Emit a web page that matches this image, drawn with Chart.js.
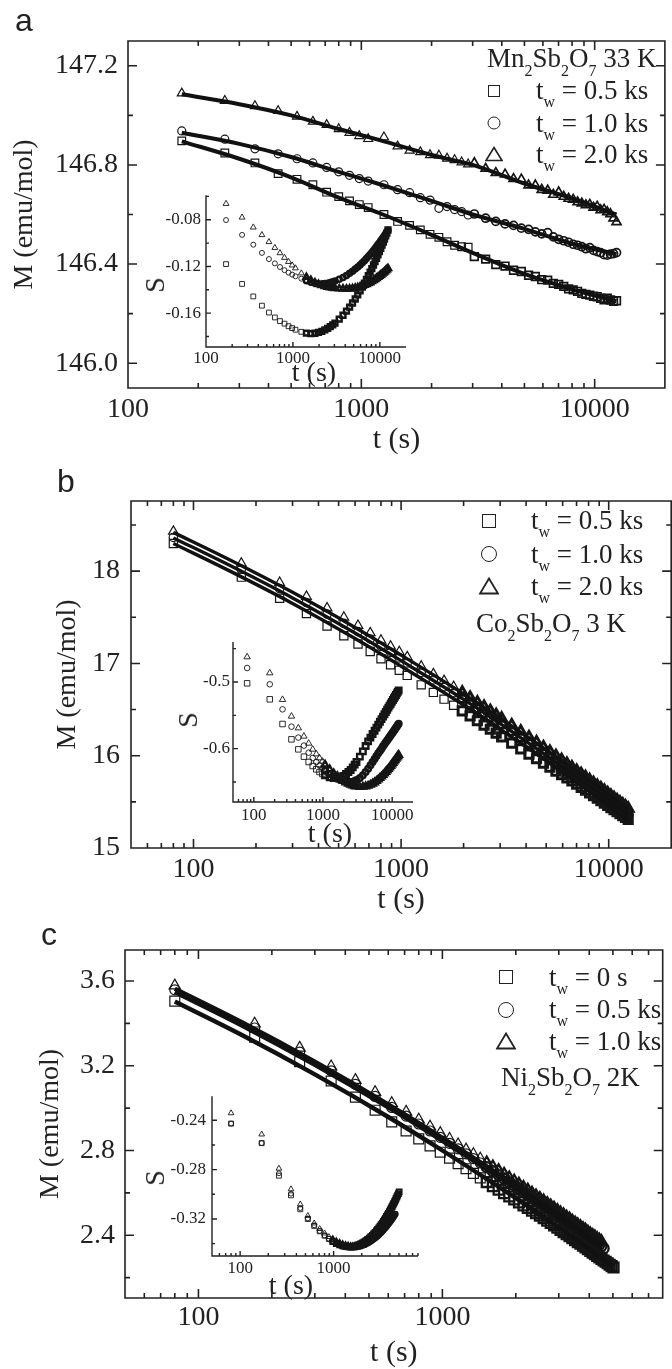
<!DOCTYPE html>
<html>
<head>
<meta charset="utf-8">
<script src="https://cdn.jsdelivr.net/npm/chart.js@4.4.1/dist/chart.umd.min.js"></script>
<style>
  body { margin: 0; width: 672px; height: 1369px; overflow: hidden; background: #fff; position: relative;
         font-family: 'Liberation Serif', 'Times New Roman', serif; color: #222; }
  canvas { position: absolute; }
  .tx { position: absolute; font-size: 27px; line-height: 1; white-space: nowrap; }
  .tx sub { font-size: 16px; vertical-align: -9px; line-height: 0; }
  .tx sub.w { vertical-align: -8px; }
  .pl { position: absolute; font-family: 'Liberation Sans', Arial, sans-serif; font-size: 32px; line-height: 1; }
  .it { position: absolute; font-size: 28px; line-height: 1; white-space: nowrap; transform: translate(-50%, -50%); }
  .it.rot { transform: translate(-50%, -50%) rotate(-90deg); }
  .mk { position: absolute; box-sizing: border-box; border: 1.6px solid #222; transform: translate(-50%, -50%); }
  .mk.c { border-radius: 50%; }
  svg.tri { position: absolute; transform: translate(-50%, -50%); }
</style>
</head>
<body>
<canvas id="cA" width="672" height="460" style="left:0;top:0"></canvas>
<canvas id="cB" width="680" height="460" style="left:0;top:460px"></canvas>
<canvas id="cC" width="672" height="449" style="left:0;top:920px"></canvas>
<canvas id="iA" width="270" height="200" style="left:150px;top:180px"></canvas>
<canvas id="iB" width="260" height="210" style="left:180px;top:620px"></canvas>
<canvas id="iC" width="290" height="200" style="left:150px;top:1080px"></canvas>

<div class="pl" style="left:15px;top:4px">a</div>
<div class="pl" style="left:57px;top:465px">b</div>
<div class="pl" style="left:41px;top:918px">c</div>

<!-- panel a legend -->
<div class="tx" style="left:487px;top:45px">Mn<sub>2</sub>Sb<sub>2</sub>O<sub>7</sub> 33 K</div>
<div class="mk" style="left:494px;top:91px;width:12px;height:12px"></div>
<div class="mk c" style="left:494px;top:123px;width:13px;height:13px"></div>
<svg class="tri" style="left:494px;top:154px" width="18" height="16"><polygon points="9,1.5 17,14.5 1,14.5" fill="none" stroke="#222" stroke-width="1.6"/></svg>
<div class="tx" style="left:536px;top:77px">t<sub class="w">w</sub> = 0.5 ks</div>
<div class="tx" style="left:536px;top:110px">t<sub class="w">w</sub> = 1.0 ks</div>
<div class="tx" style="left:536px;top:141px">t<sub class="w">w</sub> = 2.0 ks</div>

<!-- panel b legend -->
<div class="mk" style="left:489px;top:521px;width:14px;height:14px"></div>
<div class="mk c" style="left:489px;top:554px;width:16px;height:16px"></div>
<svg class="tri" style="left:489px;top:586px" width="21" height="18"><polygon points="10.5,1.5 19.5,16.5 1.5,16.5" fill="none" stroke="#222" stroke-width="1.8"/></svg>
<div class="tx" style="left:531px;top:507px">t<sub class="w">w</sub> = 0.5 ks</div>
<div class="tx" style="left:531px;top:541px">t<sub class="w">w</sub> = 1.0 ks</div>
<div class="tx" style="left:531px;top:573px">t<sub class="w">w</sub> = 2.0 ks</div>
<div class="tx" style="left:476px;top:610px">Co<sub>2</sub>Sb<sub>2</sub>O<sub>7</sub> 3 K</div>

<!-- panel c legend -->
<div class="mk" style="left:506px;top:977px;width:14px;height:14px"></div>
<div class="mk c" style="left:506px;top:1010px;width:16px;height:16px"></div>
<svg class="tri" style="left:506px;top:1041px" width="21" height="18"><polygon points="10.5,1.5 19.5,16.5 1.5,16.5" fill="none" stroke="#222" stroke-width="1.8"/></svg>
<div class="tx" style="left:549px;top:964px">t<sub class="w">w</sub> = 0 s</div>
<div class="tx" style="left:549px;top:996px">t<sub class="w">w</sub> = 0.5 ks</div>
<div class="tx" style="left:549px;top:1028px">t<sub class="w">w</sub> = 1.0 ks</div>
<div class="tx" style="left:501px;top:1064px">Ni<sub>2</sub>Sb<sub>2</sub>O<sub>7</sub> 2K</div>

<!-- inset axis titles -->
<div class="it" style="left:314px;top:372px">t (s)</div>
<div class="it rot" style="left:155px;top:285px">S</div>
<div class="it" style="left:330px;top:833px">t (s)</div>
<div class="it rot" style="left:188px;top:720px">S</div>
<div class="it" style="left:291px;top:1285px">t (s)</div>
<div class="it rot" style="left:155px;top:1178px">S</div>

<script>
// ---- panel a : Mn2Sb2O7 33 K ----
const tA = [170, 260, 350, 440, 530, 620, 710, 800, 890, 980, 1070,
  1250, 1430, 1610, 1790, 1970, 2150, 2330, 2510, 2690, 2870, 3050,
  3410, 3770, 4130, 4490, 4850, 5210, 5570, 5930, 6290, 6650, 7010, 7370, 7730,
  8090, 8450, 8810, 9170, 9530, 9890, 10250, 10610, 10970, 11330, 11690, 12050, 12410];
const mA_05 = [146.897, 146.848, 146.808, 146.765, 146.742, 146.720, 146.690, 146.672, 146.655, 146.640, 146.628,
  146.600, 146.572, 146.556, 146.538, 146.520, 146.508, 146.490, 146.476, 146.470, 146.468, 146.430,
  146.420, 146.398, 146.392, 146.375, 146.370, 146.355, 146.350, 146.337, 146.335, 146.322, 146.318, 146.310, 146.300,
  146.296, 146.290, 146.282, 146.278, 146.275, 146.270, 146.268, 146.262, 146.256, 146.262, 146.255, 146.250, 146.252];
const mA_10 = [146.937, 146.904, 146.865, 146.845, 146.825, 146.808, 146.790, 146.772, 146.758, 146.745, 146.735,
  146.720, 146.700, 146.688, 146.668, 146.658, 146.625, 146.632, 146.620, 146.612, 146.598, 146.602,
  146.585, 146.572, 146.562, 146.556, 146.545, 146.540, 146.530, 146.522, 146.527, 146.510, 146.500, 146.494, 146.488,
  146.480, 146.476, 146.470, 146.462, 146.466, 146.455, 146.450, 146.446, 146.438, 146.436, 146.440, 146.442, 146.446];
const mA_20 = [147.089, 147.059, 147.038, 147.018, 146.995, 146.975, 146.962, 146.945, 146.930, 146.917, 146.905,
  146.912, 146.875, 146.858, 146.852, 146.840, 146.838, 146.826, 146.820, 146.811, 146.803, 146.808,
  146.785, 146.768, 146.762, 146.744, 146.742, 146.718, 146.718, 146.700, 146.697, 146.680, 146.690, 146.672, 146.664,
  146.660, 146.650, 146.645, 146.638, 146.640, 146.628, 146.632, 146.618, 146.620, 146.610, 146.602, 146.585, 146.570];
const fitTA = [170, 300, 500, 800, 1200, 2000, 3000, 5000, 8000, 12400];
const fitA_05 = [146.895, 146.825, 146.750, 146.668, 146.605, 146.518, 146.445, 146.360, 146.298, 146.250];
const fitA_10 = [146.930, 146.885, 146.832, 146.772, 146.722, 146.655, 146.600, 146.542, 146.482, 146.440];
const fitA_20 = [147.085, 147.045, 147.000, 146.945, 146.900, 146.840, 146.800, 146.725, 146.665, 146.600];
const sA_05 = [-0.1180, -0.1350, -0.1457, -0.1536, -0.1595, -0.1637, -0.1668, -0.1690, -0.1712, -0.1728, -0.1742,
  -0.1760, -0.1771, -0.1775, -0.1772, -0.1765, -0.1756, -0.1744, -0.1731, -0.1716, -0.1701, -0.1685,
  -0.1652, -0.1618, -0.1583, -0.1548, -0.1513, -0.1479, -0.1444, -0.1410, -0.1377, -0.1344, -0.1312, -0.1280, -0.1249,
  -0.1219, -0.1188, -0.1159, -0.1130, -0.1101, -0.1073, -0.1045, -0.1018, -0.0991, -0.0965, -0.0939, -0.0914, -0.0888];
const sA_10 = [-0.0803, -0.0930, -0.1014, -0.1084, -0.1137, -0.1174, -0.1205, -0.1232, -0.1253, -0.1270, -0.1284,
  -0.1305, -0.1322, -0.1336, -0.1345, -0.1350, -0.1350, -0.1347, -0.1343, -0.1338, -0.1332, -0.1325,
  -0.1310, -0.1294, -0.1277, -0.1259, -0.1241, -0.1223, -0.1205, -0.1187, -0.1168, -0.1151, -0.1133, -0.1115, -0.1097,
  -0.1080, -0.1063, -0.1046, -0.1030, -0.1013, -0.0997, -0.0981, -0.0966, -0.0950, -0.0935, -0.0920, -0.0905, -0.0890];
const sA_20 = [-0.0663, -0.0780, -0.0865, -0.0930, -0.0990, -0.1040, -0.1085, -0.1125, -0.1160, -0.1190, -0.1215,
  -0.1258, -0.1292, -0.1318, -0.1338, -0.1352, -0.1362, -0.1370, -0.1376, -0.1381, -0.1384, -0.1387,
  -0.1390, -0.1391, -0.1392, -0.1391, -0.1389, -0.1384, -0.1380, -0.1374, -0.1368, -0.1360, -0.1353, -0.1345, -0.1337,
  -0.1328, -0.1319, -0.1310, -0.1301, -0.1292, -0.1282, -0.1273, -0.1264, -0.1254, -0.1245, -0.1235, -0.1226, -0.1216];

// ---- panel b : Co2Sb2O7 3 K ----
const tB = [80, 170, 260, 350, 440, 530, 620, 710, 800, 890, 980, 1070,
  1250, 1430, 1610, 1790, 1970, 2150, 2330, 2510, 2690, 2870, 3050,
  3410, 3770, 4130, 4490, 4850, 5210, 5570, 5930, 6290, 6650, 7010, 7370, 7730,
  8090, 8450, 8810, 9170, 9530, 9890, 10250, 10610, 10970, 11330, 11690, 12050, 12410];
const mB_05 = [18.300, 17.935, 17.705, 17.540, 17.405, 17.300, 17.210, 17.130, 17.050, 16.985, 16.925, 16.870,
  16.768, 16.686, 16.613, 16.547, 16.486, 16.431, 16.379, 16.331, 16.287, 16.244, 16.205,
  16.136, 16.074, 16.018, 15.967, 15.919, 15.875, 15.834, 15.796, 15.760, 15.726, 15.691, 15.658, 15.626,
  15.596, 15.567, 15.539, 15.512, 15.487, 15.462, 15.438, 15.415, 15.393, 15.372, 15.351, 15.331, 15.311];
const mB_10 = [18.365, 18.020, 17.810, 17.660, 17.535, 17.435, 17.345, 17.265, 17.185, 17.120, 17.060, 17.005,
  16.903, 16.821, 16.748, 16.682, 16.621, 16.566, 16.514, 16.466, 16.422, 16.379, 16.340,
  16.266, 16.199, 16.138, 16.082, 16.029, 15.980, 15.934, 15.891, 15.850, 15.811, 15.774, 15.739, 15.705,
  15.673, 15.642, 15.612, 15.583, 15.556, 15.529, 15.503, 15.478, 15.454, 15.431, 15.408, 15.386, 15.364];
const mB_20 = [18.430, 18.085, 17.875, 17.725, 17.600, 17.500, 17.410, 17.330, 17.250, 17.185, 17.125, 17.070,
  16.968, 16.886, 16.813, 16.747, 16.686, 16.631, 16.579, 16.531, 16.487, 16.444, 16.405,
  16.331, 16.264, 16.203, 16.147, 16.094, 16.045, 15.999, 15.956, 15.915, 15.876, 15.839, 15.804, 15.770,
  15.738, 15.707, 15.677, 15.648, 15.621, 15.594, 15.568, 15.543, 15.519, 15.496, 15.473, 15.451, 15.429];
const fitTB = [80, 150, 300, 600, 1000, 2000, 4000, 8000, 12410];
const fitB_05 = [18.30, 18.00, 17.65, 17.27, 16.97, 16.55, 16.095, 15.615, 15.30];
const fitB_10 = [18.36, 18.06, 17.71, 17.33, 17.03, 16.61, 16.155, 15.675, 15.36];
const fitB_20 = [18.42, 18.12, 17.77, 17.39, 17.09, 16.67, 16.215, 15.735, 15.42];
const sB_05 = [-0.502, -0.526, -0.563, -0.586, -0.601, -0.612, -0.620, -0.626, -0.631, -0.635, -0.638, -0.640,
  -0.643, -0.644, -0.644, -0.643, -0.641, -0.638, -0.635, -0.632, -0.628, -0.624, -0.620,
  -0.612, -0.604, -0.596, -0.589, -0.5835, -0.5781, -0.5731, -0.5684, -0.5639, -0.5597, -0.5557, -0.5520, -0.5484,
  -0.5449, -0.5416, -0.5385, -0.5355, -0.5326, -0.5298, -0.5270, -0.5244, -0.5220, -0.5195, -0.5171, -0.5148, -0.5126];
const sB_10 = [-0.479, -0.5034, -0.541, -0.567, -0.5834, -0.5954, -0.606, -0.614, -0.620, -0.625, -0.629, -0.633,
  -0.638, -0.642, -0.645, -0.647, -0.6485, -0.6495, -0.650, -0.650, -0.6495, -0.6485, -0.647,
  -0.644, -0.640, -0.635, -0.630, -0.625, -0.620, -0.6155, -0.611, -0.607, -0.6035, -0.600, -0.5965, -0.5935,
  -0.5905, -0.5878, -0.585, -0.5825, -0.580, -0.5775, -0.5752, -0.573, -0.571, -0.5688, -0.5666, -0.5645, -0.5625];
const sB_20 = [-0.4625, -0.4865, -0.5264, -0.5514, -0.569, -0.5814, -0.592, -0.601, -0.608, -0.614, -0.619, -0.624,
  -0.631, -0.637, -0.641, -0.645, -0.648, -0.6505, -0.6525, -0.654, -0.6552, -0.6562, -0.6568,
  -0.6574, -0.6572, -0.6566, -0.6556, -0.6542, -0.6525, -0.6506, -0.6485, -0.6463, -0.6441, -0.6418, -0.6395, -0.6372,
  -0.6349, -0.6326, -0.6303, -0.6280, -0.6258, -0.6236, -0.6214, -0.6193, -0.6172, -0.6151, -0.6131, -0.6112, -0.6093];

// ---- panel c : Ni2Sb2O7 2K ----
const tC = [80, 170, 260, 350, 440, 530, 620, 710, 800, 890, 980, 1070, 1160, 1250, 1340, 1430, 1520, 1610,
  1700, 1790, 1880, 1970, 2060, 2150, 2240, 2330, 2420, 2510, 2600, 2690, 2780, 2870, 2960, 3050, 3140, 3230,
  3320, 3410, 3500, 3590, 3680, 3770, 3860, 3950, 4040, 4130, 4220, 4310, 4400, 4490, 4580, 4670, 4760, 4850,
  4940, 5030];
const mC_0 = [3.505, 3.334, 3.219, 3.128, 3.052, 2.990, 2.935, 2.892, 2.855, 2.822, 2.792, 2.764, 2.738, 2.714,
  2.692, 2.671, 2.651, 2.632, 2.615, 2.599, 2.583, 2.569, 2.555, 2.541, 2.529, 2.516, 2.504, 2.493, 2.481, 2.469,
  2.458, 2.447, 2.436, 2.425, 2.415, 2.405, 2.396, 2.386, 2.377, 2.368, 2.360, 2.351, 2.343, 2.334, 2.326, 2.318,
  2.311, 2.303, 2.296, 2.289, 2.281, 2.275, 2.268, 2.261, 2.254, 2.248];
const mC_05 = [3.558, 3.378, 3.264, 3.176, 3.112, 3.055, 3.003, 2.962, 2.925, 2.892, 2.862, 2.834, 2.808, 2.784,
  2.762, 2.741, 2.721, 2.702, 2.684, 2.667, 2.650, 2.635, 2.620, 2.605, 2.592, 2.578, 2.565, 2.553, 2.541, 2.529,
  2.518, 2.507, 2.496, 2.485, 2.475, 2.465, 2.456, 2.446, 2.437, 2.428, 2.420, 2.411, 2.403, 2.394, 2.386, 2.378,
  2.371, 2.363, 2.356, 2.349, 2.338];
const mC_10 = [3.578, 3.398, 3.284, 3.196, 3.132, 3.075, 3.023, 2.982, 2.945, 2.912, 2.882, 2.854, 2.828, 2.804,
  2.782, 2.761, 2.741, 2.722, 2.704, 2.687, 2.670, 2.655, 2.640, 2.625, 2.612, 2.598, 2.585, 2.573, 2.561, 2.549,
  2.538, 2.527, 2.516, 2.505, 2.495, 2.485, 2.476, 2.466, 2.457, 2.448, 2.440, 2.431, 2.423, 2.414, 2.406, 2.398,
  2.391, 2.383, 2.376, 2.369];
const fitTC0 = [80, 150, 300, 600, 1000, 2000, 3000, 4000, 5030];
const fitTC = [80, 150, 300, 600, 1000, 2000, 3000, 4000, 4500];
const fitC_0 = [3.503, 3.346, 3.159, 2.958, 2.800, 2.575, 2.436, 2.335, 2.253];
const fitC_05 = [3.548, 3.391, 3.204, 3.003, 2.845, 2.620, 2.481, 2.380, 2.338];
const fitC_10 = [3.563, 3.406, 3.219, 3.018, 2.860, 2.635, 2.496, 2.395, 2.353];
const sC_0 = [-0.2427, -0.2585, -0.2849, -0.3008, -0.3121, -0.3200, -0.3256, -0.3300, -0.3335, -0.3362, -0.3383,
  -0.3399, -0.3410, -0.3418, -0.3422, -0.3425, -0.3425, -0.3424, -0.3420, -0.3416, -0.3410, -0.3402, -0.3394,
  -0.3386, -0.3376, -0.3366, -0.3356, -0.3344, -0.3333, -0.3321, -0.3309, -0.3297, -0.3285, -0.3272, -0.3259,
  -0.3246, -0.3233, -0.3220, -0.3207, -0.3194, -0.3180, -0.3167, -0.3154, -0.3140, -0.3127, -0.3113, -0.3100,
  -0.3087, -0.3073, -0.3060, -0.3047, -0.3033, -0.3020, -0.3007, -0.2994, -0.2980];
const sC_05 = [-0.2427, -0.2585, -0.2830, -0.2995, -0.3112, -0.3195, -0.3252, -0.3297, -0.3333, -0.3360, -0.3382,
  -0.3399, -0.3411, -0.3420, -0.3425, -0.3428, -0.3430, -0.3430, -0.3429, -0.3426, -0.3423, -0.3419, -0.3413,
  -0.3408, -0.3401, -0.3394, -0.3387, -0.3379, -0.3371, -0.3363, -0.3354, -0.3346, -0.3337, -0.3327, -0.3318,
  -0.3309, -0.3299, -0.3289, -0.3280, -0.3270, -0.3260, -0.3250, -0.3240, -0.3230, -0.3220, -0.3210, -0.3200,
  -0.3190, -0.3180, -0.3170, -0.3160];
const sC_10 = [-0.2342, -0.2514, -0.2791, -0.2958, -0.3081, -0.3174, -0.3235, -0.3280, -0.3316, -0.3345, -0.3367,
  -0.3384, -0.3397, -0.3407, -0.3414, -0.3419, -0.3422, -0.3423, -0.3419, -0.3414, -0.3407, -0.3399, -0.3390,
  -0.3381, -0.3370, -0.3359, -0.3348, -0.3336, -0.3324, -0.3312, -0.3300, -0.3287, -0.3274, -0.3261, -0.3248,
  -0.3235, -0.3222, -0.3208, -0.3195, -0.3182, -0.3168, -0.3155, -0.3141, -0.3128, -0.3114, -0.3101, -0.3087,
  -0.3074, -0.3060, -0.3047];

// ---- tick values ----
const xMajor3 = [100, 1000, 10000];
const xMajor2 = [100, 1000];
const xMinorA = [200, 300, 400, 500, 600, 700, 800, 900, 2000, 3000, 4000, 5000, 6000, 7000, 8000, 9000];
const xMinorB = [60, 70, 80, 90, 200, 300, 400, 500, 600, 700, 800, 900, 2000, 3000, 4000, 5000, 6000, 7000, 8000, 9000];
const xMinorC = [60, 70, 80, 90, 200, 300, 400, 500, 600, 700, 800, 900, 2000, 3000, 4000, 5000, 6000, 7000, 8000];
const yMajA = [146.0, 146.4, 146.8, 147.2], yMinA = [146.2, 146.6, 147.0];
const yMajB = [15, 16, 17, 18], yMinB = [15.5, 16.5, 17.5, 18.5];
const yMajC = [2.4, 2.8, 3.2, 3.6], yMinC = [2.2, 2.6, 3.0, 3.4];
const sMajA = [-0.16, -0.12, -0.08], sMinA = [-0.18, -0.14, -0.10, -0.06];
const sMajB = [-0.6, -0.5], sMinB = [-0.65, -0.55, -0.45];
const sMajC = [-0.32, -0.28, -0.24], sMinC = [-0.34, -0.30, -0.26, -0.22];

Chart.defaults.font.family = "'Liberation Serif', 'Times New Roman', serif";
Chart.defaults.color = '#222';

// box / axis lines with inward ticks
const frame = {
  id: 'frame',
  afterDatasetsDraw(chart, args, o) {
    const { ctx, chartArea: a } = chart;
    const sx = chart.scales.x, sy = chart.scales.y;
    ctx.save();
    ctx.strokeStyle = '#222';
    ctx.lineWidth = o.lw;
    ctx.beginPath();
    if (o.box) {
      ctx.rect(a.left, a.top, a.right - a.left, a.bottom - a.top);
    } else {
      ctx.moveTo(a.left, a.top);
      ctx.lineTo(a.left, a.bottom);
      ctx.lineTo(a.right, a.bottom);
    }
    const marks = (vals, len, horiz) => {
      vals.forEach(v => {
        if (horiz) {
          const p = sx.getPixelForValue(v);
          if (p < a.left - 0.5 || p > a.right + 0.5) return;
          ctx.moveTo(p, a.bottom); ctx.lineTo(p, a.bottom - len);
          if (o.box) { ctx.moveTo(p, a.top); ctx.lineTo(p, a.top + len); }
        } else {
          const p = sy.getPixelForValue(v);
          if (p < a.top - 0.5 || p > a.bottom + 0.5) return;
          ctx.moveTo(a.left, p); ctx.lineTo(a.left + len, p);
          if (o.box) { ctx.moveTo(a.right, p); ctx.lineTo(a.right - len, p); }
        }
      });
    };
    marks(o.xMajor, o.major, true);
    marks(o.xMinor, o.minor, true);
    marks(o.yMajor, o.major, false);
    marks(o.yMinor, o.minor, false);
    ctx.stroke();
    ctx.restore();
  }
};

const pts = (t, v) => v.map((y, i) => ({ x: t[i], y }));
const fitLine = (t, v, w) => ({
  data: pts(t, v), showLine: true, pointRadius: 0, borderColor: '#111', borderWidth: w,
  cubicInterpolationMode: 'monotone'
});
// markers get a heavier outline where the measured points crowd together
const marks = (t, v, style, r, bw, denseFrom, denseW) => ({
  data: pts(t, v), showLine: false, pointStyle: style, pointRadius: r,
  pointBorderWidth: c => (c.raw && c.raw.x >= denseFrom ? denseW : bw),
  pointBorderColor: '#151515', pointBackgroundColor: 'rgba(0,0,0,0)'
});

function makeChart(id, o) {
  return new Chart(document.getElementById(id), {
    type: 'scatter',
    data: { datasets: o.datasets },
    options: {
      responsive: false,
      animation: false,
      devicePixelRatio: 1,
      events: [],
      layout: { padding: o.pad },
      plugins: { legend: { display: false }, tooltip: { enabled: false }, frame: o.frame },
      scales: {
        x: {
          type: 'logarithmic', min: o.xMin, max: o.xMax,
          grid: { display: false, drawTicks: false }, border: { display: false },
          afterBuildTicks: s => { s.ticks = o.frame.xMajor.map(v => ({ value: v })); },
          afterFit: s => { s.height = o.xh; },
          ticks: { autoSkip: false, maxRotation: 0, padding: o.xPad, font: { size: o.fs }, callback: v => String(v) },
          title: o.xTitle
            ? { display: true, text: o.xTitle, font: { size: 30, lineHeight: 1 }, padding: { top: 0, bottom: o.xtPad } }
            : { display: false }
        },
        y: {
          min: o.yMin, max: o.yMax,
          grid: { display: false, drawTicks: false }, border: { display: false },
          afterBuildTicks: s => { s.ticks = o.frame.yMajor.map(v => ({ value: v })); },
          afterFit: s => { s.width = o.yw; },
          ticks: { autoSkip: false, padding: o.yPad, font: { size: o.fs }, callback: v => v.toFixed(o.dec) },
          title: o.yTitle
            ? { display: true, text: o.yTitle, font: { size: 28, lineHeight: 1 }, padding: { top: o.ytPad, bottom: 0 } }
            : { display: false }
        }
      }
    },
    plugins: [frame]
  });
}

// panel a
makeChart('cA', {
  datasets: [
    fitLine(fitTA, fitA_05, 4), fitLine(fitTA, fitA_10, 4), fitLine(fitTA, fitA_20, 4),
    marks(tA, mA_05, 'rect', 5.4, 1.2, 3000, 1.7), marks(tA, mA_10, 'circle', 4, 1.2, 3000, 1.7),
    marks(tA, mA_20, 'triangle', 5.2, 1.2, 3000, 1.7)
  ],
  xMin: 100, xMax: 20000, yMin: 145.9, yMax: 147.3, dec: 1, fs: 28,
  pad: { top: 41, right: 2, left: 0, bottom: 0 }, yw: 128, xh: 72, xPad: 5, yPad: 10,
  xTitle: 't (s)', xtPad: 5, yTitle: 'M (emu/mol)', ytPad: 11,
  frame: { box: true, lw: 1.6, major: 9, minor: 5, xMajor: xMajor3, xMinor: xMinorA, yMajor: yMajA, yMinor: yMinA }
});
makeChart('iA', {
  datasets: [
    marks(tA, sA_05, 'rect', 3.4, 0.9, 1300, 2.5), marks(tA, sA_10, 'circle', 2.5, 0.9, 1300, 2.5),
    marks(tA, sA_20, 'triangle', 3.4, 0.9, 1300, 2.5)
  ],
  xMin: 100, xMax: 20000, yMin: -0.189, yMax: -0.059, dec: 2, fs: 17,
  pad: { top: 13, right: 14, left: 0, bottom: 0 }, yw: 56, xh: 33, xPad: 1, yPad: 5,
  frame: { box: false, lw: 1.4, major: 5, minor: 3, xMajor: xMajor3, xMinor: xMinorA, yMajor: sMajA, yMinor: sMinA }
});

// panel b
makeChart('cB', {
  datasets: [
    fitLine(fitTB, fitB_05, 3.4), fitLine(fitTB, fitB_10, 3.4), fitLine(fitTB, fitB_20, 3.4),
    marks(tB, mB_05, 'rect', 5.8, 1.2, 1800, 3), marks(tB, mB_10, 'circle', 4.2, 1.2, 1800, 3),
    marks(tB, mB_20, 'triangle', 5.6, 1.2, 1800, 3)
  ],
  xMin: 50, xMax: 20000, yMin: 15, yMax: 18.76, dec: 0, fs: 28,
  pad: { top: 41, right: 6, left: 0, bottom: 0 }, yw: 131, xh: 72, xPad: 5, yPad: 11,
  xTitle: 't (s)', xtPad: 5, yTitle: 'M (emu/mol)', ytPad: 54,
  frame: { box: true, lw: 1.6, major: 9, minor: 5, xMajor: xMajor3, xMinor: xMinorB, yMajor: yMajB, yMinor: yMinB }
});
makeChart('iB', {
  datasets: [
    marks(tB, sB_05, 'rect', 3.9, 0.9, 1000, 2.4), marks(tB, sB_10, 'circle', 2.8, 0.9, 1000, 2.4),
    marks(tB, sB_20, 'triangle', 3.7, 0.9, 1000, 2.4)
  ],
  xMin: 50, xMax: 20000, yMin: -0.68, yMax: -0.44, dec: 1, fs: 17,
  pad: { top: 22, right: 27, left: 0, bottom: 0 }, yw: 53, xh: 28, xPad: 3, yPad: 3,
  frame: { box: false, lw: 1.4, major: 5, minor: 3, xMajor: xMajor3, xMinor: xMinorB, yMajor: sMajB, yMinor: sMinB }
});

// panel c
makeChart('cC', {
  datasets: [
    fitLine(fitTC0, fitC_0, 4.4), fitLine(fitTC, fitC_05, 4.4), fitLine(fitTC, fitC_10, 4.4),
    marks(tC, mC_0, 'rect', 7, 1.2, 1500, 2.3), marks(tC, mC_05, 'circle', 5, 1.2, 1500, 2.3),
    marks(tC, mC_10, 'triangle', 6.5, 1.2, 1500, 2.3)
  ],
  xMin: 50, xMax: 8000, yMin: 2.104, yMax: 3.746, dec: 1, fs: 28,
  pad: { top: 30, right: 4, left: 0, bottom: 0 }, yw: 125, xh: 71, xPad: 3, yPad: 10,
  xTitle: 't (s)', xtPad: 1, yTitle: 'M (emu/mol)', ytPad: 37,
  frame: { box: true, lw: 1.6, major: 9, minor: 5, xMajor: xMajor2, xMinor: xMinorC, yMajor: yMajC, yMinor: yMinC }
});
makeChart('iC', {
  datasets: [
    marks(tC, sC_0, 'rect', 3.5, 0.9, 900, 1.9), marks(tC, sC_05, 'circle', 2.4, 0.9, 900, 1.9),
    marks(tC, sC_10, 'triangle', 3.3, 0.9, 900, 1.9)
  ],
  xMin: 50, xMax: 8000, yMin: -0.35, yMax: -0.2205, dec: 2, fs: 17,
  pad: { top: 13, right: 22, left: 0, bottom: 0 }, yw: 62, xh: 24, xPad: 2, yPad: 6,
  frame: { box: false, lw: 1.4, major: 5, minor: 3, xMajor: xMajor2, xMinor: xMinorC, yMajor: sMajC, yMinor: sMinC }
});
</script>
</body>
</html>
